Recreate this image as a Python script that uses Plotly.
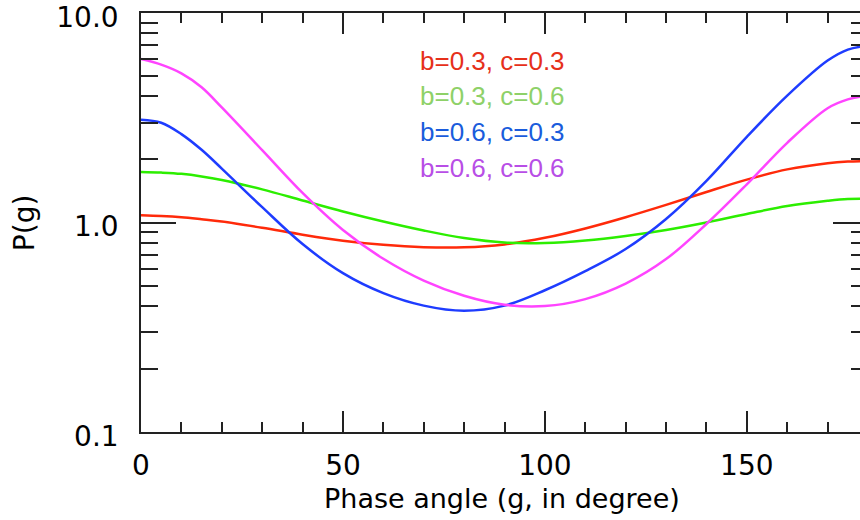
import plotly.graph_objects as go

# phase angle samples (degree) and P(g)
phase_deg = [0, 5, 10, 15, 20, 30, 40, 50, 60, 70, 80, 90, 100, 110, 120, 130, 140, 150, 160, 170, 175, 180]
p_b03_c03 = [1.083, 1.074, 1.059, 1.036, 1.011, 0.944, 0.875, 0.819, 0.782, 0.762, 0.761, 0.786, 0.845,
             0.937, 1.060, 1.213, 1.399, 1.602, 1.793, 1.920, 1.954, 1.963]
p_b03_c06 = [1.744, 1.731, 1.707, 1.660, 1.597, 1.439, 1.274, 1.129, 1.011, 0.916, 0.843, 0.802, 0.798,
             0.820, 0.862, 0.921, 1.000, 1.098, 1.199, 1.270, 1.296, 1.299]
p_b06_c03 = [3.093, 2.993, 2.642, 2.223, 1.809, 1.184, 0.789, 0.573, 0.460, 0.401, 0.379, 0.401, 0.475,
             0.586, 0.747, 1.039, 1.580, 2.565, 4.030, 5.927, 6.690, 6.990]
p_b06_c06 = [6.037, 5.670, 5.152, 4.420, 3.542, 2.215, 1.384, 0.921, 0.671, 0.528, 0.447, 0.405, 0.399,
             0.431, 0.511, 0.669, 0.984, 1.520, 2.401, 3.512, 3.870, 4.030]

labels = ["b=0.3, c=0.3", "b=0.3, c=0.6", "b=0.6, c=0.3", "b=0.6, c=0.6"]
line_colors = ["#ff2a0a", "#2cee00", "#1e3cff", "#ff44ff"]
text_colors = ["#e6301a", "#8ed168", "#1a5cdc", "#b84ee6"]

y_major = [0.1, 1, 10]
y_major_text = ["0.1", "1.0", "10.0"]
y_minor = [0.2, 0.3, 0.4, 0.5, 0.6, 0.7, 0.8, 0.9, 2, 3, 4, 5, 6, 7, 8, 9]

fig = go.Figure()
for vals, col, name in zip([p_b03_c03, p_b03_c06, p_b06_c03, p_b06_c06], line_colors, labels):
    fig.add_trace(go.Scatter(x=phase_deg, y=vals, mode="lines", name=name,
                             line=dict(color=col, width=2.5, shape="spline", smoothing=1.0),
                             showlegend=False))

# text "legend" in the upper middle (plot area is 727 px wide)
label_y = [0.886, 0.801, 0.715, 0.629]
for lab, col, yy in zip(labels, text_colors, label_y):
    fig.add_annotation(text=lab, xref="paper", yref="paper", x=0.381, y=yy,
                       xanchor="left", yanchor="middle", showarrow=False,
                       font=dict(family="Liberation Sans, Arial", size=26, color=col))

axis_font = dict(family="DejaVu Sans", size=28, color="black")

# axis titles placed by hand (tighter than plotly's own spacing)
fig.add_annotation(text="Phase angle (g, in degree)", xref="paper", yref="paper",
                   x=0.497, y=-0.158, xanchor="center", yanchor="middle",
                   showarrow=False, font=dict(family="DejaVu Sans", size=27, color="black"))
fig.add_annotation(text="P(g)", xref="paper", yref="paper", textangle=-90,
                   x=-0.160, y=0.5, xanchor="center", yanchor="middle",
                   showarrow=False, font=axis_font)

# figure is a bit wider than the window: the right spine falls just outside, as in the reference
fig.update_layout(
    width=868, height=520,
    margin=dict(l=141, r=0, t=13, b=88),
    paper_bgcolor="white", plot_bgcolor="white",
    xaxis=dict(
        range=[0, 180], dtick=50, tick0=0, automargin=False,
        ticks="inside", ticklen=21, tickwidth=1.5, tickcolor="#222",
        showline=True, linecolor="#222", linewidth=1.5, mirror="ticks",
        showgrid=False, zeroline=False,
        tickfont=axis_font, ticklabelstandoff=8,
        minor=dict(dtick=10, ticks="inside", ticklen=10, tickwidth=1.5, tickcolor="#222", showgrid=False),
    ),
    yaxis=dict(
        type="log", range=[-1, 1], automargin=False,
        tickmode="array", tickvals=y_major, ticktext=y_major_text,
        ticks="inside", ticklen=35, tickwidth=1.5, tickcolor="#222",
        showline=True, linecolor="#222", linewidth=1.5, mirror="ticks",
        showgrid=False, zeroline=False,
        tickfont=axis_font, ticklabelstandoff=15, ticklabelshift=4,
        ticklabeloverflow="allow",
        minor=dict(tickmode="array", tickvals=y_minor, ticks="inside", ticklen=17,
                   tickwidth=1.5, tickcolor="#222", showgrid=False),
    ),
)

# drop the default 8px body margin so the figure sits at the page corner
fig.write_html("out.html", config={"displayModeBar": False},
               post_script="document.body.style.margin='0px';document.body.style.overflow='hidden';")
